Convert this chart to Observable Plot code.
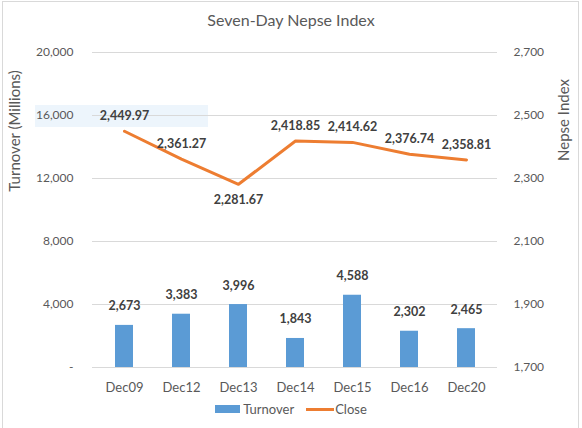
<!DOCTYPE html>
<html>
<head>
<meta charset="utf-8">
<script src="https://cdn.jsdelivr.net/npm/d3@7"></script>
<script src="https://cdn.jsdelivr.net/npm/@observablehq/plot@0.6"></script>
<style>
  html, body { margin: 0; padding: 0; background: #fff; }
  #wrap { position: relative; width: 582px; height: 428px; font-family: Lato, "Open Sans", sans-serif; color: #595959; overflow: hidden; }
  #frame { position: absolute; left: 2px; top: 1px; width: 577px; height: 430px; border: 1px solid #D9D9D9; box-sizing: border-box; }
  #chart { position: absolute; left: 0; top: 0; }
  .abs { position: absolute; white-space: nowrap; }
  #title { left: 0; width: 582px; top: 10px; text-align: center; font-size: 16px; }
  .ytitle { font-size: 15px; transform: translate(-50%, -50%) rotate(-90deg); }
  #snip { left: 35px; top: 105px; width: 173px; height: 22px; background: rgba(214, 232, 248, 0.45); }
  #legend { top: 401px; left: 0; width: 582px; display: flex; justify-content: center; align-items: center; font-size: 13px; }
  .sw { display: inline-block; }
</style>
</head>
<body>
<div id="wrap">
  <div id="frame"></div>
  <div id="snip" class="abs"></div>
  <div id="chart"></div>
  <div id="title" class="abs">Seven-Day Nepse Index</div>
  <div class="abs ytitle" style="left:14px; top:131px;">Turnover (Millions)</div>
  <div class="abs ytitle" style="left:563px; top:120px;">Nepse Index</div>
  <div id="legend" class="abs">
    <span class="sw" style="width:25px;height:8px;background:#5B9BD5;margin-right:3px;"></span><span style="margin-right:12px;">Turnover</span>
    <span class="sw" style="width:28px;height:3px;background:#ED7D31;margin-right:1px;"></span><span>Close</span>
  </div>
</div>
<script>
const categories = ["Dec09", "Dec12", "Dec13", "Dec14", "Dec15", "Dec16", "Dec20"];
const turnover = [2673, 3383, 3996, 1843, 4588, 2302, 2465];
const close = [2449.97, 2361.27, 2281.67, 2418.85, 2414.62, 2376.74, 2358.81];
const leftTicks = [0, 4000, 8000, 12000, 16000, 20000];
const rightTicks = [1700, 1900, 2100, 2300, 2500, 2700];

// right axis [1700, 2700] mapped onto left axis [0, 20000]
const rightMin = 1700, rightMax = 2700, leftMax = 20000;
const toLeft = v => (v - rightMin) * leftMax / (rightMax - rightMin);
const fromLeft = v => v * (rightMax - rightMin) / leftMax + rightMin;

const data = categories.map((c, i) => ({cat: c, turnover: turnover[i], close: close[i]}));
const minClose = d3.min(close);
const fmtInt = d3.format(",");
const fmt2 = d3.format(",.2f");

const chart = Plot.plot({
  width: 582,
  height: 428,
  marginTop: 52,
  marginBottom: 61,
  marginLeft: 92,
  marginRight: 85,
  style: {fontFamily: "Lato, 'Open Sans', sans-serif", fontSize: "12px", color: "#595959", background: "transparent", overflow: "visible"},
  x: {type: "band", domain: categories, paddingInner: 0.69, paddingOuter: 0.345, label: null},
  y: {domain: [0, leftMax], label: null},
  marks: [
    Plot.ruleY(leftTicks, {stroke: "#D9D9D9", strokeWidth: 1}),
    Plot.barY(data, {x: "cat", y: "turnover", fill: "#5B9BD5"}),
    Plot.text(data, {x: "cat", y: "turnover", text: d => fmtInt(d.turnover), dy: -19, fontWeight: "bold", fill: "#404040", fontSize: 12.5}),
    Plot.lineY(data, {x: "cat", y: d => toLeft(d.close), stroke: "#ED7D31", strokeWidth: 3}),
    Plot.text(data, {filter: d => d.close !== minClose, x: "cat", y: d => toLeft(d.close), text: d => fmt2(d.close), dy: -15, fontWeight: "bold", fill: "#404040", fontSize: 12.5}),
    Plot.text(data, {filter: d => d.close === minClose, x: "cat", y: d => toLeft(d.close), text: d => fmt2(d.close), dy: 16, fontWeight: "bold", fill: "#404040", fontSize: 12.5}),
    Plot.axisY({anchor: "left", ticks: leftTicks, tickSize: 0, tickPadding: 19, label: null, tickFormat: d => d === 0 ? "-" : fmtInt(d), fill: "#595959"}),
    Plot.axisY({anchor: "right", ticks: rightTicks.map(toLeft), tickSize: 0, tickPadding: 16, label: null, tickFormat: d => fmtInt(Math.round(fromLeft(d))), fill: "#595959"}),
    Plot.axisX({tickSize: 0, tickPadding: 15, label: null, fill: "#595959", fontSize: 13})
  ]
});
document.getElementById("chart").appendChild(chart);
</script>
</body>
</html>
